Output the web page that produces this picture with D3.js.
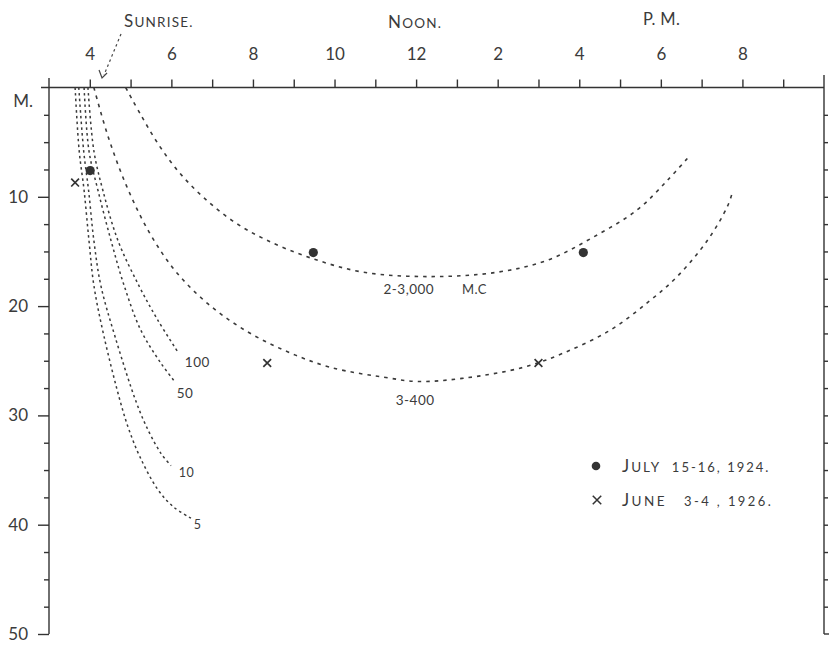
<!DOCTYPE html>
<html>
<head>
<meta charset="utf-8">
<script src="https://cdn.jsdelivr.net/npm/d3@7/dist/d3.min.js"></script>
<style>
  body { margin: 0; background: #fff; }
  text { font-family: Lato, "Open Sans", sans-serif; fill: #3b3b3b; }
  .axis path { display: none; }
  .axis line, .frame { stroke: #333; stroke-width: 1.4; }
</style>
</head>
<body>
<svg id="chart" width="829" height="647"></svg>
<script>
// hours run 3 a.m. (left frame) to 10 p.m. (right frame), depth in metres
const hourTicks = d3.range(4, 22);
const labeledHours = [4, 6, 8, 10, 12, 14, 16, 18, 20];
const hourLabels = ["4", "6", "8", "10", "12", "2", "4", "6", "8"];
const depthMinor = d3.range(0, 50.1, 2.5);
const depthMajor = [10, 20, 30, 40, 50];
const sunrise = 4.3;

// isolines of light intensity, [hour, depth]
const curve5 = [[3.64, 0], [3.74, 5.8], [3.86, 9.4], [3.98, 14.0], [4.10, 18.1], [4.35, 22.8],
  [4.76, 28.9], [4.96, 31.3], [5.23, 33.8], [5.67, 36.8], [6.06, 38.4], [6.48, 39.4]];
const curve10 = [[3.73, 0], [3.85, 5.8], [3.97, 9.4], [4.10, 14.0], [4.27, 18.1], [4.62, 22.8],
  [5.15, 28.9], [5.45, 31.5], [5.75, 33.5], [5.99, 34.6]];
const curve50 = [[3.86, 0], [3.98, 5.8], [4.20, 9.4], [4.52, 14.0], [4.84, 18.1], [5.25, 22.2],
  [5.74, 25.2], [6.06, 26.8]];
const curve100 = [[3.955, 0], [4.10, 5.8], [4.32, 9.4], [4.69, 14.0], [5.20, 18.1], [5.67, 21.3],
  [6.16, 24.2]];
const curve300 = [[4.10, 0], [4.45, 4.5], [4.90, 9.0], [5.45, 13.2], [6.10, 16.8], [6.90, 19.8],
  [7.80, 22.2], [8.80, 24.1], [9.90, 25.6], [11.37, 26.6], [12.03, 26.9], [13.16, 26.6],
  [14.63, 25.6], [15.61, 24.3], [16.76, 22.2], [17.70, 19.6], [18.40, 17.3], [19.14, 14.0],
  [19.63, 10.9], [19.77, 9.4]];
const curve2000 = [[4.88, 0], [5.25, 2.5], [5.70, 5.3], [6.20, 7.8], [6.80, 10.1], [7.50, 12.2],
  [8.30, 13.9], [9.42, 15.6], [10.71, 16.9], [12.35, 17.3], [13.99, 16.9], [15.22, 15.8],
  [16.34, 13.7], [17.42, 11.2], [18.16, 8.5], [18.67, 6.4]];

const curveNames = ["5", "10", "50", "100", "3-400", "2-3,000"];
// label anchor (left edge, middle) in [hour, depth]
const curveLabelAt = [[6.55, 40.0], [6.18, 35.2], [6.13, 28.0], [6.33, 25.1], [11.5, 28.6], [11.2, 18.5]];

// observations
const julyDots = [[4.01, 7.6], [9.48, 15.1], [16.10, 15.1]];
const juneCrosses = [[3.64, 8.7], [8.35, 25.2], [15.0, 25.2]];

const svg = d3.select("#chart");
const x = d3.scaleLinear().domain([3, 22]).range([49, 824]);
const y = d3.scaleLinear().domain([0, 50]).range([87.5, 634]);

// frame lines
svg.append("line").attr("class", "frame").attr("x1", 41).attr("x2", x(22)).attr("y1", y(0)).attr("y2", y(0));
svg.append("line").attr("class", "frame").attr("x1", x(3)).attr("x2", x(3)).attr("y1", 78).attr("y2", y(50));
svg.append("line").attr("class", "frame").attr("x1", x(22)).attr("x2", x(22)).attr("y1", 75).attr("y2", y(50));
svg.append("line").attr("class", "frame").attr("x1", x(22)).attr("x2", 829).attr("y1", y(50)).attr("y2", y(50));

// top time axis
const labelOf = new Map(labeledHours.map((h, i) => [h, hourLabels[i]]));
svg.append("g").attr("class", "axis").attr("transform", `translate(0,${y(0)})`)
  .call(d3.axisTop(x).tickValues(hourTicks).tickSize(8).tickPadding(20)
    .tickFormat(h => labelOf.get(h) || ""))
  .call(g => g.selectAll("text").style("font-size", "17px").attr("fill", "#3b3b3b"));

// left depth axis
svg.append("g").attr("class", "axis").attr("transform", `translate(${x(3)},0)`)
  .call(d3.axisLeft(y).tickValues(depthMinor.filter(d => d % 10 !== 0)).tickSize(5).tickFormat(""));
svg.append("g").attr("class", "axis").attr("transform", `translate(${x(3)},0)`)
  .call(d3.axisLeft(y).tickValues(depthMajor).tickSize(11).tickPadding(10))
  .call(g => g.selectAll("text").style("font-size", "17px").attr("fill", "#3b3b3b"));
svg.append("text").attr("x", 33).attr("y", y(1.2)).attr("dy", "0.35em")
  .attr("text-anchor", "end").style("font-size", "17px").text("M.");

// right frame ticks
svg.append("g").attr("class", "axis").attr("transform", `translate(${x(22)},0)`)
  .call(d3.axisRight(y).tickValues(depthMinor.filter(d => d > 0 && d < 50)).tickSize(4).tickFormat(""));

// headings with small caps
function capsText(px, py, parts) {
  const t = svg.append("text").attr("x", px).attr("y", py).style("letter-spacing", "1.2px")
    .attr("xml:space", "preserve");
  parts.forEach(([s, size]) => t.append("tspan").style("font-size", size + "px").text(s));
  return t;
}
capsText(124, 27, [["S", 17], ["UNRISE.", 13.5]]);
capsText(388, 28, [["N", 17], ["OON.", 13.5]]);
capsText(643, 25, [["P. M.", 16.5]]).style("letter-spacing", "0.3px");

// sunrise arrow
svg.append("line").attr("x1", x(sunrise) + 19).attr("y1", 34).attr("x2", x(sunrise) + 2).attr("y2", 75)
  .attr("stroke", "#444").attr("stroke-width", 1.2).attr("stroke-dasharray", "2.5,3");
svg.append("path")
  .attr("d", `M${x(sunrise) - 3},${70} L${x(sunrise)},${78} L${x(sunrise) + 5},${73}`)
  .attr("fill", "none").attr("stroke", "#444").attr("stroke-width", 1.2);

// isolines
const line = d3.line().x(d => x(d[0])).y(d => y(d[1])).curve(d3.curveCatmullRom.alpha(0.5));
const curves = [curve5, curve10, curve50, curve100, curve300, curve2000];
svg.append("g").selectAll("path").data(curves).join("path")
  .attr("d", line)
  .attr("fill", "none").attr("stroke", "#3a3a3a")
  .attr("stroke-width", (d, i) => i < 4 ? 1.5 : 1.6)
  .attr("stroke-dasharray", (d, i) => i < 4 ? "2.5,3.2" : "3.5,5");

svg.append("g").selectAll("text").data(curveNames).join("text")
  .attr("x", (d, i) => x(curveLabelAt[i][0]))
  .attr("y", (d, i) => y(curveLabelAt[i][1]))
  .attr("dy", "0.35em")
  .style("font-size", (d, i) => i < 2 ? "12.5px" : "13.5px")
  .style("letter-spacing", "0.5px")
  .text(d => d);
svg.append("text").attr("x", 462).attr("y", y(18.5)).attr("dy", "0.35em")
  .style("font-size", "13px").style("letter-spacing", "0.5px").text("M.C");

// observation marks
svg.append("g").selectAll("circle").data(julyDots).join("circle")
  .attr("cx", d => x(d[0])).attr("cy", d => y(d[1])).attr("r", 4.6).attr("fill", "#333");
svg.append("g").selectAll("path").data(juneCrosses).join("path")
  .attr("transform", d => `translate(${x(d[0])},${y(d[1])}) rotate(45)`)
  .attr("d", "M-5.5,0H5.5M0,-5.5V5.5")
  .attr("stroke", "#333").attr("stroke-width", 1.7);

// legend
svg.append("circle").attr("cx", 596).attr("cy", 466).attr("r", 4.3).attr("fill", "#333");
svg.append("path").attr("transform", "translate(597,500) rotate(45)")
  .attr("d", "M-6,0H6M0,-6V6").attr("stroke", "#333").attr("stroke-width", 1.5);
capsText(622, 472, [["J", 17], ["ULY", 13.5], ["  15-16, 1924.", 13]]).style("letter-spacing", "2px");
capsText(622, 506, [["J", 17], ["UNE", 13.5], ["   3-4 , 1926.", 13]]).style("letter-spacing", "2.4px");
</script>
</body>
</html>
